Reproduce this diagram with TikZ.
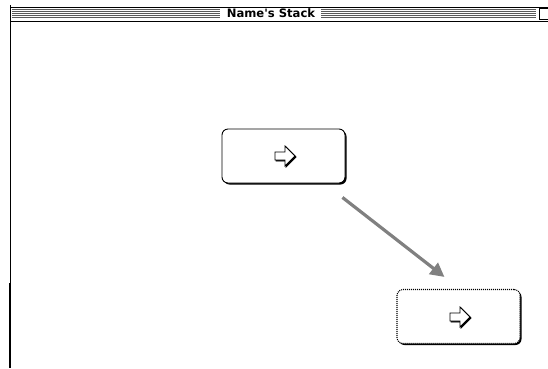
\documentclass[tikz,border=0pt]{standalone}
\usepackage{tikz}
\usepackage{fontspec}
\newfontfamily\titlefont{DejaVu Sans}
\usetikzlibrary{arrows.meta, calc}
\definecolor{stripeG}{RGB}{90,90,90}
\definecolor{moveG}{RGB}{128,128,128}
\tikzset{
  btnbox/.style={draw, line width=0.9pt, rounded corners=6pt, fill=white,
    minimum width=123pt, minimum height=54pt, inner sep=0pt},
  btnshadow/.style={fill=black, rounded corners=6pt, minimum width=123pt,
    minimum height=54pt, inner sep=0pt},
  dotbox/.style={btnbox, line width=1.1pt, dash pattern=on 1pt off 1pt},
  fwdicon/.pic={
    \draw[line width=0.8pt, line join=miter, fill=black] (-9,-3) -- (1,-3) -- (1,-9) -- (11,1) -- (1,11) -- (1,5) -- (-9,5) -- cycle;
    \draw[line width=0.8pt, line join=miter, fill=white] (-10,-4) -- (0,-4) -- (0,-10) -- (10,0) -- (0,10) -- (0,4) -- (-10,4) -- cycle;
  }
}
\begin{document}
\begin{tikzpicture}[x=1pt, y=-1pt]
\useasboundingbox (0,0) rectangle (548,368);
% window frame and title bar
\draw[line width=0.8pt] (10,5) -- (10,368);
\draw[line width=2.2pt] (9.6,283) -- (9.6,368);
\draw[line width=0.8pt] (11,7) -- (548,7);
\draw[line width=1.4pt] (11,21.5) -- (548,21.5);
\foreach \y in {9,11,13,15,17} {
  \draw[stripeG, line width=0.6pt] (12,\y) -- (220,\y);
  \draw[stripeG, line width=0.6pt] (321,\y) -- (536,\y);
}
\draw[line width=0.8pt] (539,8.5) rectangle (552,19);
\node[font=\titlefont\bfseries\fontsize{11.6}{13}\selectfont] (title) at (271,13.5) {Name's Stack};
% the two buttons
\node[btnshadow] (s1) at (285,157.5) {};
\node[btnbox] (b1) at (283.5,156) {};
\pic at (285,156) {fwdicon};
\node[btnshadow] (s2) at (460,318) {};
\node[dotbox] (b2) at (458.5,316.5) {};
\pic at (460,317) {fwdicon};
% drag direction
\coordinate (dragA) at ($(b1.south east)+(-3,14)$);
\coordinate (dragB) at ($(b2.north west)+(48,-12)$);
\draw[moveG, line width=3.2pt, -{Triangle[length=14pt, width=14pt]}] (dragA) -- (dragB);
\end{tikzpicture}
\end{document}
